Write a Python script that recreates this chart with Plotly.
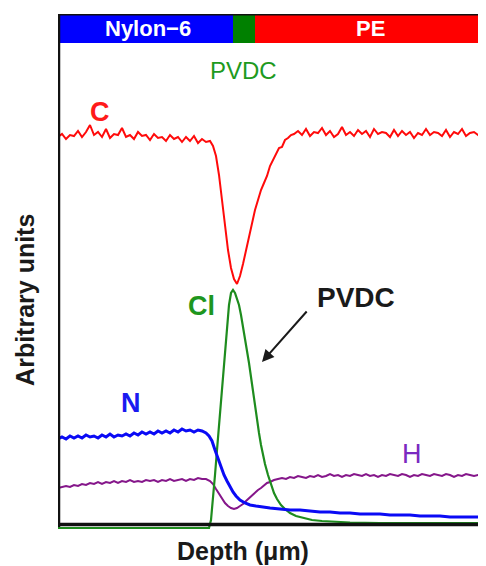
import plotly.graph_objects as go

# ---------------- data (arbitrary units) ----------------
c_depth = [0, 4, 8, 12, 16, 20, 24, 28, 32, 36, 40, 44, 48, 52, 56, 60, 64, 68, 72, 76,
           80, 84, 88, 92, 96, 100, 104, 108, 112, 116, 120, 124, 128, 132, 136, 140, 144, 148, 152,
           155, 158, 161, 164, 167, 170, 173, 176, 179, 182, 185, 188, 191, 194, 197, 200, 203, 206,
           209, 212, 215, 218, 221, 224, 227, 230, 233, 236, 240, 244, 248, 252, 256, 260, 264, 268,
           272, 276, 280, 284, 288, 292, 296, 300, 304, 308, 312, 316, 320, 324, 328, 332, 336, 340,
           344, 348, 352, 356, 360, 364, 368, 372, 376, 380, 384, 388, 392, 396, 400, 404, 408, 412,
           416, 420, 424, 428]
c_signal = [388, 391, 386, 390, 389, 394, 388, 393, 400, 390, 393, 388, 396, 387, 391, 390, 397, 388, 390, 386,
            393, 389, 390, 385, 391, 387, 388, 384, 390, 386, 388, 383, 388, 384, 389, 382, 386, 383, 384,
            379, 369, 350, 325, 300, 275, 257, 246, 241, 249, 261, 275, 289, 303, 315, 325, 335, 342,
            349, 359, 365, 371, 377, 378, 385, 387, 390, 391, 394, 390, 396, 389, 393, 392, 397, 390,
            394, 388, 391, 398, 390, 393, 389, 395, 391, 394, 388, 396, 391, 393, 392, 388, 395, 389,
            394, 390, 393, 387, 392, 390, 396, 390, 393, 392, 389, 395, 388, 393, 391, 396, 389, 392,
            393, 390, 387, 386]

n_depth = [0, 4, 8, 12, 16, 20, 24, 28, 32, 36, 40, 44, 48, 52, 56, 60, 64, 68, 72, 76,
           80, 84, 88, 92, 96, 100, 104, 108, 112, 116, 120, 124, 128, 132, 136, 140, 144, 148,
           151, 154, 157, 160, 163, 166, 169, 172, 175, 178, 182, 187, 192, 198, 204, 212, 222,
           232, 242, 252, 262, 272, 282, 292, 302, 312, 322, 332, 342, 352, 362, 372, 382, 392,
           402, 412, 422, 428]
n_signal = [86, 88, 86, 89, 87, 89, 87, 90, 88, 89, 87, 90, 88, 91, 88, 90, 89, 91, 89, 92,
            90, 93, 91, 93, 91, 94, 92, 94, 92, 95, 93, 96, 94, 95, 93, 95, 94, 92,
            89, 84, 75, 66, 58, 50, 44, 38, 33, 29, 25, 22, 20, 19, 18, 17, 16,
            15, 15, 14, 13, 13, 12, 12, 11, 11, 11, 10, 10, 10, 9, 9, 9, 8,
            8, 8, 8, 8]

h_depth = [0, 4, 8, 12, 16, 20, 24, 28, 32, 36, 40, 44, 48, 52, 56, 60, 64, 68, 72, 76,
           80, 84, 88, 92, 96, 100, 104, 108, 112, 116, 120, 124, 128, 132, 136, 140, 144, 148, 152,
           155, 158, 161, 164, 167, 170, 173, 176, 179, 182, 185, 188, 191, 194, 197, 200, 203, 206,
           209, 212, 216, 220, 224, 228, 232, 236, 240, 244, 248, 252, 256, 260, 264, 268, 272, 276,
           280, 284, 288, 292, 296, 300, 304, 308, 312, 316, 320, 324, 328, 332, 336, 340, 344, 348,
           352, 356, 360, 364, 368, 372, 376, 380, 384, 388, 392, 396, 400, 404, 408, 412, 416, 420,
           424, 428]
h_signal = [37, 38, 39, 38, 40, 39, 41, 40, 42, 41, 43, 41, 43, 42, 44, 42, 44, 43, 45, 43,
            44, 43, 45, 44, 45, 43, 45, 44, 46, 44, 45, 46, 44, 46, 45, 47, 46, 46, 44,
            41, 36, 31, 26, 22, 19, 17, 16, 17, 19, 21, 24, 27, 30, 32, 35, 37, 40,
            42, 43, 45, 46, 47, 46, 48, 47, 49, 48, 47, 49, 48, 50, 48, 49, 51, 49,
            50, 48, 50, 49, 51, 50, 49, 51, 49, 50, 48, 50, 49, 51, 50, 49, 51, 50,
            48, 50, 49, 51, 50, 49, 51, 50, 49, 51, 50, 48, 50, 49, 51, 50, 49, 50,
            49, 49]

cl_depth = [0, 151, 153, 155, 157, 159, 161, 163, 165, 167, 169, 171, 173, 175, 177, 179, 181,
            183, 185, 187, 189, 191, 193, 195, 197, 199, 201, 203, 205, 207, 210, 213, 216, 219,
            223, 227, 232, 238, 245, 254, 264, 277, 292, 322, 362, 428]
cl_signal = [-3, -3, 5, 25, 50, 75, 100, 125, 150, 175, 200, 220, 232, 235, 232, 227, 220,
             210, 199, 188, 175, 162, 148, 133, 119, 105, 92, 80, 70, 61, 50, 40, 32, 26,
             20, 16, 12, 9, 7, 5, 4, 3, 2.5, 2, 2, 2]

layer_names = ["Nylon\u22126", "", "PE"]
layer_bounds = [0, 175, 197, 428]
layer_colors = ["#0000FF", "#008000", "#FF0000"]

X_MAX = 428
Y_MIN, Y_MAX = -5, 511

FONT = "Liberation Sans, Arial, Helvetica, sans-serif"

fig = go.Figure()
fig.add_trace(go.Scatter(x=c_depth, y=c_signal, mode="lines",
                         line=dict(color="#FF0A0A", width=2), hoverinfo="skip"))
fig.add_trace(go.Scatter(x=h_depth, y=h_signal, mode="lines",
                         line=dict(color="#85168A", width=2), hoverinfo="skip"))
fig.add_trace(go.Scatter(x=cl_depth, y=cl_signal, mode="lines",
                         line=dict(color="#1E8C1E", width=2.2), hoverinfo="skip"))
fig.add_trace(go.Scatter(x=n_depth, y=n_signal, mode="lines",
                         line=dict(color="#0A0AF5", width=3), hoverinfo="skip"))

shapes = []
for i in range(3):
    shapes.append(dict(type="rect", xref="x", yref="y",
                       x0=layer_bounds[i], x1=layer_bounds[i + 1], y0=482, y1=510.5,
                       fillcolor=layer_colors[i], line=dict(width=0), layer="above"))
# frame lines
shapes.append(dict(type="line", xref="x", yref="y", x0=0, x1=X_MAX, y0=0.5, y1=0.5,
                   line=dict(color="#111111", width=3.5)))
shapes.append(dict(type="line", xref="x", yref="y", x0=0, x1=X_MAX, y0=511, y1=511,
                   line=dict(color="#111111", width=3)))
shapes.append(dict(type="line", xref="x", yref="y", x0=0.5, x1=0.5, y0=-2, y1=512,
                   line=dict(color="#111111", width=3.5)))

annotations = []
for i, name in enumerate(layer_names):
    if name:
        annotations.append(dict(x=(layer_bounds[i] + layer_bounds[i + 1]) / 2 + (2 if i == 0 else 0),
                                y=497, xref="x", yref="y", text=f"<b>{name}</b>", showarrow=False,
                                font=dict(family=FONT, size=22, color="white")))

labels = [
    ("PVDC", 185, 455, "#1E9A1E", 24, False),
    ("C", 42, 413, "#FF1A1A", 27, True),
    ("Cl", 143, 219, "#1E961E", 27, True),
    ("PVDC", 298, 228, "#1A1A1A", 28, True),
    ("N", 73, 122, "#1A1AF0", 27, True),
    ("H", 354, 71, "#7A2AC0", 27, False),
]
for text, x, y, col, size, bold in labels:
    annotations.append(dict(x=x, y=y, xref="x", yref="y", showarrow=False,
                            text=f"<b>{text}</b>" if bold else text,
                            font=dict(family=FONT, size=size, color=col)))

# arrow pointing at the Cl peak
annotations.append(dict(x=204, y=163, ax=250, ay=215, xref="x", yref="y", axref="x", ayref="y",
                        text="", showarrow=True, arrowhead=2, arrowsize=1.2, arrowwidth=2,
                        arrowcolor="#1A1A1A"))

# axis titles
annotations.append(dict(x=0.432, y=-0.041, xref="paper", yref="paper",
                        xanchor="center", yanchor="middle", text="<b>Depth (\u03bcm)</b>",
                        showarrow=False, font=dict(family=FONT, size=25, color="#1A1A1A")))
annotations.append(dict(x=-0.077, y=0.446, xref="paper", yref="paper",
                        xanchor="center", yanchor="middle", text="<b>Arbitrary units</b>",
                        textangle=-90, showarrow=False,
                        font=dict(family=FONT, size=25, color="#1A1A1A")))

fig.update_layout(
    width=478, height=558,
    margin=dict(l=50, r=0, t=6, b=36),
    paper_bgcolor="white", plot_bgcolor="white",
    showlegend=False,
    xaxis=dict(range=[0, X_MAX], visible=False, fixedrange=True),
    yaxis=dict(range=[Y_MIN, Y_MAX], visible=False, fixedrange=True),
    shapes=shapes,
    annotations=annotations,
)

fig.write_html("out.html", default_width="478px", default_height="558px")
